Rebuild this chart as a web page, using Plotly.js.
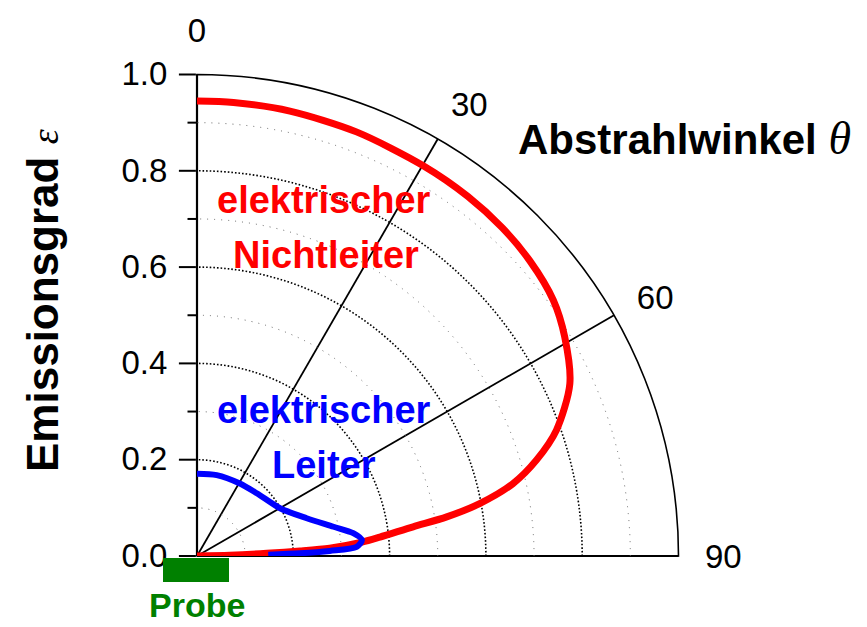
<!DOCTYPE html>
<html>
<head>
<meta charset="utf-8">
<script src="https://cdn.plot.ly/plotly-3.0.1.min.js"></script>
<style>html,body{margin:0;padding:0;background:#fff;}#chart{width:867px;height:627px;}</style>
</head>
<body>
<div id="chart"></div>
<script>
// ---- data (angle in degrees from the surface normal, emissivity) ----
const nichtleiterTheta = [0, 4.6, 11.8, 20.6, 30.1, 37.0, 42.9, 48.4, 54.3, 59.2, 65.2, 70.7, 74.2, 77.1, 79.5, 81.1, 82.3, 84.1, 85.2, 86.6, 87.2, 87.8, 88.6, 90];
const nichtleiterR     = [0.945, 0.945, 0.944, 0.941, 0.937, 0.935, 0.931, 0.924, 0.911, 0.889, 0.853, 0.791, 0.733, 0.673, 0.597, 0.525, 0.453, 0.382, 0.344, 0.276, 0.214, 0.145, 0.068, 0];
const leiterTheta = [0, 13.7, 30.6, 43.6, 60.1, 71.0, 77.9, 81.7, 84.5, 86.7, 87.8, 88.5, 88.9];
const leiterR     = [0.171, 0.173, 0.175, 0.180, 0.199, 0.241, 0.290, 0.328, 0.344, 0.332, 0.276, 0.214, 0.148];
const angTicks = [0, 30, 60, 90];
const radMajor = [0, 0.2, 0.4, 0.6, 0.8, 1.0];
const radMajorText = ['0.0', '0.2', '0.4', '0.6', '0.8', '1.0'];
const radMinor = [0.1, 0.3, 0.5, 0.7, 0.9];

const W = 867, H = 627;
const px = x => x / W;
const py = y => 1 - y / H;
const cx = 197, cy = 556, R = 481.5;
const dom = {x: [px(cx), px(cx + R)], y: [py(cy), py(cy - R)]};

const numFont = {family: 'Liberation Sans, Arial, sans-serif', size: 33, color: '#000'};

const traces = [
  {type: 'scatterpolar', subplot: 'polar2', mode: 'lines', theta: nichtleiterTheta, r: nichtleiterR,
   line: {color: '#ff0000', width: 7, shape: 'spline', smoothing: 0.8}, hoverinfo: 'skip', showlegend: false},
  {type: 'scatterpolar', subplot: 'polar2', mode: 'lines', theta: leiterTheta, r: leiterR,
   line: {color: '#0000ff', width: 6, shape: 'spline', smoothing: 0.8}, hoverinfo: 'skip', showlegend: false},
  {type: 'scatterpolar', subplot: 'polar', mode: 'lines', theta: [], r: [], hoverinfo: 'skip', showlegend: false}
];

const layout = {
  width: W, height: H,
  margin: {l: 0, r: 0, t: 0, b: 0},
  paper_bgcolor: '#fff',
  showlegend: false,
  polar: {
    domain: dom, sector: [0, 90], bgcolor: '#fff', hole: 0,
    angularaxis: {
      rotation: 90, direction: 'clockwise', tickmode: 'array', tickvals: angTicks, ticktext: angTicks.map(String),
      ticks: 'outside', ticklen: 19, tickcolor: 'rgba(0,0,0,0)',
      showline: true, linecolor: '#000', linewidth: 1.6,
      showgrid: true, gridcolor: '#000', gridwidth: 1.8,
      tickfont: numFont
    },
    radialaxis: {
      range: [0, 1], angle: 90, side: 'counterclockwise', tickangle: 90,
      tickmode: 'array', tickvals: radMajor, ticktext: radMajorText,
      ticks: 'outside', ticklen: 17, tickwidth: 2, tickcolor: '#000',
      showline: true, linecolor: '#000', linewidth: 2.2,
      showgrid: true, gridcolor: '#000', gridwidth: 1.6, griddash: '1.6px,2px',
      tickfont: numFont
    }
  },
  polar2: {
    domain: dom, sector: [0, 90], bgcolor: 'rgba(0,0,0,0)', hole: 0,
    angularaxis: {
      rotation: 90, direction: 'clockwise', showline: false, showgrid: false, showticklabels: false, ticks: ''
    },
    radialaxis: {
      range: [0, 1], angle: 90, side: 'counterclockwise',
      tickmode: 'array', tickvals: radMinor, showticklabels: false,
      ticks: 'outside', ticklen: 9, tickwidth: 2, tickcolor: '#000',
      showline: false,
      showgrid: true, gridcolor: '#666', gridwidth: 1, griddash: '1px,6px'
    }
  },
  shapes: [
    {type: 'rect', xref: 'paper', yref: 'paper', x0: px(163), x1: px(229), y0: py(582), y1: py(558),
     fillcolor: '#008000', line: {width: 0}}
  ],
  annotations: [
    {xref: 'paper', yref: 'paper', x: px(324), y: py(200), text: '<b>elektrischer</b>', showarrow: false,
     font: {family: 'Liberation Sans, Arial, sans-serif', size: 38, color: '#ff0000'}, xanchor: 'center', yanchor: 'middle'},
    {xref: 'paper', yref: 'paper', x: px(326), y: py(255), text: '<b>Nichtleiter</b>', showarrow: false,
     font: {family: 'Liberation Sans, Arial, sans-serif', size: 38, color: '#ff0000'}, xanchor: 'center', yanchor: 'middle'},
    {xref: 'paper', yref: 'paper', x: px(324), y: py(410), text: '<b>elektrischer</b>', showarrow: false,
     font: {family: 'Liberation Sans, Arial, sans-serif', size: 38, color: '#0000ff'}, xanchor: 'center', yanchor: 'middle'},
    {xref: 'paper', yref: 'paper', x: px(324), y: py(465), text: '<b>Leiter</b>', showarrow: false,
     font: {family: 'Liberation Sans, Arial, sans-serif', size: 38, color: '#0000ff'}, xanchor: 'center', yanchor: 'middle'},
    {xref: 'paper', yref: 'paper', x: px(516), y: py(138), xanchor: 'left', yanchor: 'middle', showarrow: false,
     text: '<b>Abstrahlwinkel</b> <span style="font-family:Liberation Serif, Times New Roman, serif;font-size:46px"><i>θ</i></span>',
     font: {family: 'Liberation Sans, Arial, sans-serif', size: 42, color: '#000'}},
    {xref: 'paper', yref: 'paper', x: px(42), y: py(301), xanchor: 'center', yanchor: 'middle', showarrow: false, textangle: -90,
     text: '<b>Emissionsgrad</b> <span style="font-family:Liberation Serif, Times New Roman, serif;font-size:38px"><i>ε</i></span>',
     font: {family: 'Liberation Sans, Arial, sans-serif', size: 44, color: '#000'}},
    {xref: 'paper', yref: 'paper', x: px(197), y: py(605), xanchor: 'center', yanchor: 'middle', showarrow: false,
     text: '<b>Probe</b>', font: {family: 'Liberation Sans, Arial, sans-serif', size: 34, color: '#008000'}}
  ]
};

Plotly.newPlot('chart', traces, layout, {staticPlot: true, displayModeBar: false});
</script>
</body>
</html>
